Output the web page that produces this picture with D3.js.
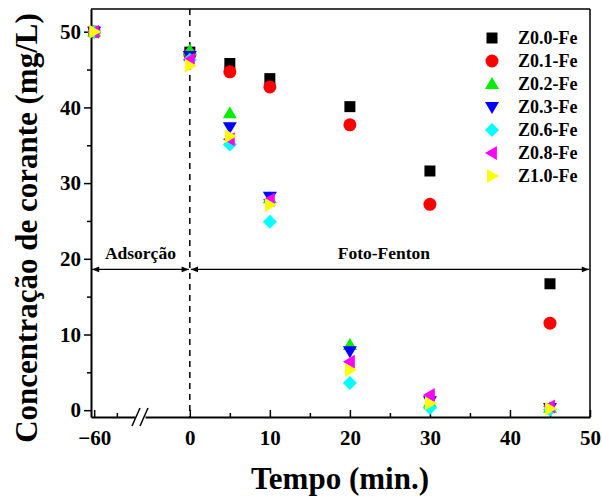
<!DOCTYPE html>
<meta charset="utf-8">
<script src="https://d3js.org/d3.v7.min.js"></script>
<style>
    body { margin: 0; background: #fff; }
    svg text { font-family: 'Liberation Serif', 'Times New Roman', serif; font-weight: bold; }
</style>
<div id="chart"></div>
<script>
    // data: time (min) and concentration (mg/L) per catalyst
    const times = [-60, 0, 5, 10, 20, 30, 45];
    const seriesNames = ["Z0.0-Fe", "Z0.1-Fe", "Z0.2-Fe", "Z0.3-Fe", "Z0.6-Fe", "Z0.8-Fe", "Z1.0-Fe"];
    const z00 = [50, 47.3, 45.8, 43.8, 40.1, 31.6, 16.7];
    const z01 = [50, 47.0, 44.7, 42.7, 37.7, 27.2, 11.5];
    const z02 = [50, 47.5, 39.2, 28.0, 8.6, 1.0, 0.3];
    const z03 = [50, 46.8, 37.4, 28.2, 7.8, 1.2, 0.3];
    const z06 = [50, 46.3, 35.1, 24.9, 3.6, 0.3, 0.1];
    const z08 = [50, 46.3, 35.8, 27.8, 6.4, 2.0, 0.5];
    const z10 = [50, 45.5, 36.2, 27.1, 5.3, 0.9, 0.2];
    const allValues = [z00, z01, z02, z03, z06, z08, z10];
    const colors = ["#000000", "#ff0000", "#00ee00", "#0000ff", "#00ffff", "#ff00ff", "#ffff00"];
    const yTicks = [0, 10, 20, 30, 40, 50];
    const xTicks = [0, 10, 20, 30, 40, 50];

    const W = 603, H = 498;
    const mLeft = 91, mRight = 590, mTop = 9, mBottom = 417;
    const serif = "'Liberation Serif', 'Times New Roman', serif";

    const svg = d3.select("#chart").append("svg")
        .attr("width", W).attr("height", H);

    const y = d3.scaleLinear().domain([-0.9, 53]).range([mBottom, mTop]);
    // broken x axis: left part for -60, right part for 0..50
    const xL = d3.scaleLinear().domain([-60.7, -51]).range([mLeft, 135]);
    const xR = d3.scaleLinear().domain([-5.6, 50]).range([145, mRight]);
    const x = t => t < -20 ? xL(t) : xR(t);

    // frame
    svg.append("line").attr("x1", mLeft).attr("x2", mRight).attr("y1", mTop).attr("y2", mTop)
        .attr("stroke", "#000").attr("stroke-width", 1.5);
    svg.append("line").attr("x1", mRight).attr("x2", mRight).attr("y1", mTop).attr("y2", mBottom)
        .attr("stroke", "#000").attr("stroke-width", 1.5);

    const styleAxis = function (g) {
        g.attr("font-family", serif).attr("font-weight", "bold");
        g.select(".domain").attr("stroke-width", 2);
        g.selectAll(".tick line").attr("stroke-width", 1.5);
        g.selectAll("text").style("font-size", "21px");
    };

    // y axis
    svg.append("g").attr("transform", "translate(" + mLeft + ",0)")
        .call(d3.axisLeft(y).tickValues(yTicks).tickSize(7).tickSizeOuter(0).tickPadding(3))
        .call(styleAxis);
    svg.append("g").attr("transform", "translate(" + mLeft + ",0)")
        .call(d3.axisLeft(y).tickValues([5, 15, 25, 35, 45]).tickSize(4).tickFormat(""))
        .call(g => g.select(".domain").remove())
        .selectAll("line").attr("stroke-width", 1.5);

    // x axis, right part
    svg.append("g").attr("transform", "translate(0," + mBottom + ")")
        .call(d3.axisBottom(xR).tickValues(xTicks).tickSize(-7).tickSizeOuter(0).tickPadding(13))
        .call(styleAxis);
    svg.append("g").attr("transform", "translate(0," + mBottom + ")")
        .call(d3.axisBottom(xR).tickValues([5, 15, 25, 35, 45]).tickSize(-4).tickFormat(""))
        .call(g => g.select(".domain").remove())
        .selectAll("line").attr("stroke-width", 1.5);

    // x axis, left part
    svg.append("g").attr("transform", "translate(0," + mBottom + ")")
        .call(d3.axisBottom(xL).tickValues([-60]).tickSize(-7).tickSizeOuter(0).tickPadding(13))
        .call(styleAxis);
    svg.append("g").attr("transform", "translate(0," + mBottom + ")")
        .call(d3.axisBottom(xL).tickValues([-55]).tickSize(-4).tickFormat(""))
        .call(g => g.select(".domain").remove())
        .selectAll("line").attr("stroke-width", 1.5);

    // break marks
    [136, 144].forEach(function (bx) {
        svg.append("line").attr("x1", bx - 4).attr("x2", bx + 4)
            .attr("y1", mBottom + 9).attr("y2", mBottom - 9)
            .attr("stroke", "#000").attr("stroke-width", 1.5);
    });

    // dashed line at t = 0
    svg.append("line").attr("x1", xR(0)).attr("x2", xR(0)).attr("y1", mTop).attr("y2", mBottom)
        .attr("stroke", "#000").attr("stroke-width", 1.5).attr("stroke-dasharray", "6,5");

    // arrows
    const defs = svg.append("defs");
    defs.append("marker").attr("id", "ah").attr("viewBox", "0 0 10 10")
        .attr("refX", 10).attr("refY", 5).attr("markerWidth", 9).attr("markerHeight", 6)
        .attr("orient", "auto-start-reverse")
        .append("path").attr("d", "M0,1 L10,5 L0,9 Z").attr("fill", "#000");
    const ay = y(18.6);
    svg.append("line").attr("x1", mLeft + 1).attr("x2", xR(0) - 1).attr("y1", ay).attr("y2", ay)
        .attr("stroke", "#000").attr("stroke-width", 1.2)
        .attr("marker-start", "url(#ah)").attr("marker-end", "url(#ah)");
    svg.append("line").attr("x1", xR(0) + 1).attr("x2", mRight - 1).attr("y1", ay).attr("y2", ay)
        .attr("stroke", "#000").attr("stroke-width", 1.2)
        .attr("marker-start", "url(#ah)").attr("marker-end", "url(#ah)");
    svg.append("text").attr("x", (mLeft + xR(0)) / 2).attr("y", ay - 10)
        .attr("text-anchor", "middle").style("font-size", "17.5px").text("Adsorção");
    svg.append("text").attr("x", (xR(0) + mRight) / 2 - 6).attr("y", ay - 10)
        .attr("text-anchor", "middle").style("font-size", "17.5px").text("Foto-Fenton");

    // symbols
    const symbolPath = function (i, cx, cy) {
        const s = 7;
        if (i === 0) return "M" + (cx - 5.5) + "," + (cy - 5.5) + "h11v11h-11Z";
        if (i === 2) return "M" + cx + "," + (cy - s) + "L" + (cx + s) + "," + (cy + s * 0.7) + "L" + (cx - s) + "," + (cy + s * 0.7) + "Z";
        if (i === 3) return "M" + cx + "," + (cy + s) + "L" + (cx + s) + "," + (cy - s * 0.7) + "L" + (cx - s) + "," + (cy - s * 0.7) + "Z";
        if (i === 4) return "M" + cx + "," + (cy - s) + "L" + (cx + s) + "," + cy + "L" + cx + "," + (cy + s) + "L" + (cx - s) + "," + cy + "Z";
        if (i === 5) return "M" + (cx - s) + "," + cy + "L" + (cx + s * 0.7) + "," + (cy - s) + "L" + (cx + s * 0.7) + "," + (cy + s) + "Z";
        return "M" + (cx + s) + "," + cy + "L" + (cx - s * 0.7) + "," + (cy - s) + "L" + (cx - s * 0.7) + "," + (cy + s) + "Z";
    };
    const drawSymbol = function (g, i, cx, cy) {
        if (i === 1) {
            g.append("circle").attr("cx", cx).attr("cy", cy).attr("r", 6.5).attr("fill", colors[i]);
        } else {
            g.append("path").attr("d", symbolPath(i, cx, cy)).attr("fill", colors[i]);
        }
    };

    const pts = svg.append("g");
    allValues.forEach(function (vals, i) {
        vals.forEach(function (v, j) {
            drawSymbol(pts, i, x(times[j]), y(v));
        });
    });

    // legend
    const leg = svg.append("g");
    seriesNames.forEach(function (name, i) {
        const ly = 38 + i * 23;
        drawSymbol(leg, i, 492, ly);
        leg.append("text").attr("x", 518).attr("y", ly).attr("dy", "0.35em")
            .style("font-size", "18px").text(name);
    });

    // axis titles
    svg.append("text").attr("x", 340).attr("y", 489)
        .attr("text-anchor", "middle").style("font-size", "31px").text("Tempo (min.)");
    svg.append("text").attr("transform", "translate(37,228) rotate(-90)")
        .attr("text-anchor", "middle").style("font-size", "31px").text("Concentração de corante (mg/L)");
</script>
